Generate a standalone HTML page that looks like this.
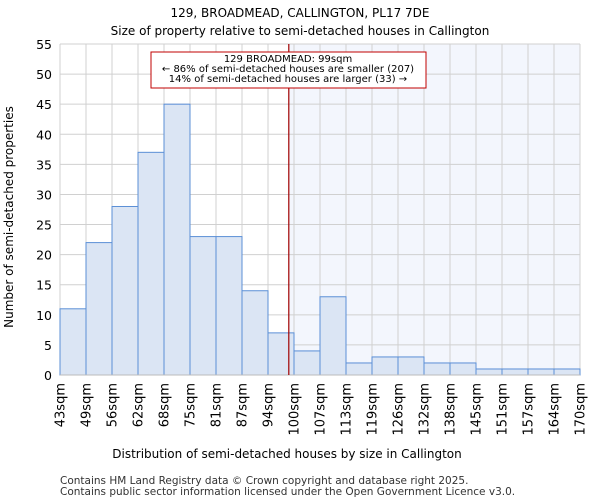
<!DOCTYPE html>
<html><head><meta charset="utf-8"><style>
body{margin:0;background:#fff;font-family:"DejaVu Sans","Liberation Sans",sans-serif}
</style></head><body>
<svg width="600" height="500" xmlns="http://www.w3.org/2000/svg" font-family="DejaVu Sans, Liberation Sans, sans-serif">
<text x="300" y="17" text-anchor="middle" font-size="12">129, BROADMEAD, CALLINGTON, PL17 7DE</text>
<text x="300" y="35" text-anchor="middle" font-size="12">Size of property relative to semi-detached houses in Callington</text>
<g id="plot"></g>
<text transform="translate(13,217) rotate(-90)" text-anchor="middle" font-size="12">Number of semi-detached properties</text>
<text x="287" y="458" text-anchor="middle" font-size="12">Distribution of semi-detached houses by size in Callington</text>
<text x="60" y="484" font-size="10.5" fill="#333">Contains HM Land Registry data © Crown copyright and database right 2025.</text>
<text x="60" y="495" font-size="10.5" fill="#333">Contains public sector information licensed under the Open Government Licence v3.0.</text>
</svg>
<script>
const categories=["43sqm","49sqm","56sqm","62sqm","68sqm","75sqm","81sqm","87sqm","94sqm","100sqm","107sqm","113sqm","119sqm","126sqm","132sqm","138sqm","145sqm","151sqm","157sqm","164sqm","170sqm"];
const counts=[11,22,28,37,45,23,23,14,7,4,13,2,3,3,2,2,1,1,1,1];
const yTicks=[0,5,10,15,20,25,30,35,40,45,50,55];
const markerBin=8.8;
const NS="http://www.w3.org/2000/svg";
const g=document.getElementById('plot');
const L=60,R=580,T=44,B=375,yMax=55;
const bw=(R-L)/counts.length;
const xs=i=>L+i*bw;
const ys=v=>B-(v/yMax)*(B-T);
function mk(t,a){const e=document.createElementNS(NS,t);for(const k in a)e.setAttribute(k,a[k]);g.appendChild(e);return e;}
const mx=xs(markerBin);
let e=mk('rect',{x:mx,y:T,width:R-mx,height:B-T,fill:'#f3f6fd'});


yTicks.forEach(v=>{let l=mk('line',{x1:L,x2:R,y1:ys(v),y2:ys(v),stroke:'#d0d0d0'});


let t=mk('text',{x:L-8,y:ys(v)+5,'text-anchor':'end','font-size':'12.5'});t.textContent=v;

});
categories.forEach((c,i)=>{let l=mk('line',{x1:xs(i),x2:xs(i),y1:T,y2:B,stroke:'#d0d0d0'});


let t=mk('text',{transform:`translate(${xs(i)+4.5},${B+8}) rotate(-90)`,'text-anchor':'end','font-size':'13'});t.textContent=c;

});
counts.forEach((v,i)=>{let r=mk('rect',{x:xs(i),y:ys(v),width:bw,height:B-ys(v),fill:'#dbe5f4',stroke:'#5b8fd6','stroke-width':1});

});
let ax=mk('line',{x1:L,x2:R,y1:B,y2:B,stroke:'#bbb'});


let ml=mk('line',{x1:mx,x2:mx,y1:T,y2:B,stroke:'#a00000','stroke-width':1.2});


let bx=mk('rect',{x:151,y:52,width:275,height:36,fill:'#fff',stroke:'#c00000'});


["129 BROADMEAD: 99sqm","← 86% of semi-detached houses are smaller (207)","14% of semi-detached houses are larger (33) →"].forEach((s,i)=>{let t=mk('text',{x:288,y:62+i*10,'text-anchor':'middle','font-size':'10'});t.textContent=s;

});
</script>
</body></html>
